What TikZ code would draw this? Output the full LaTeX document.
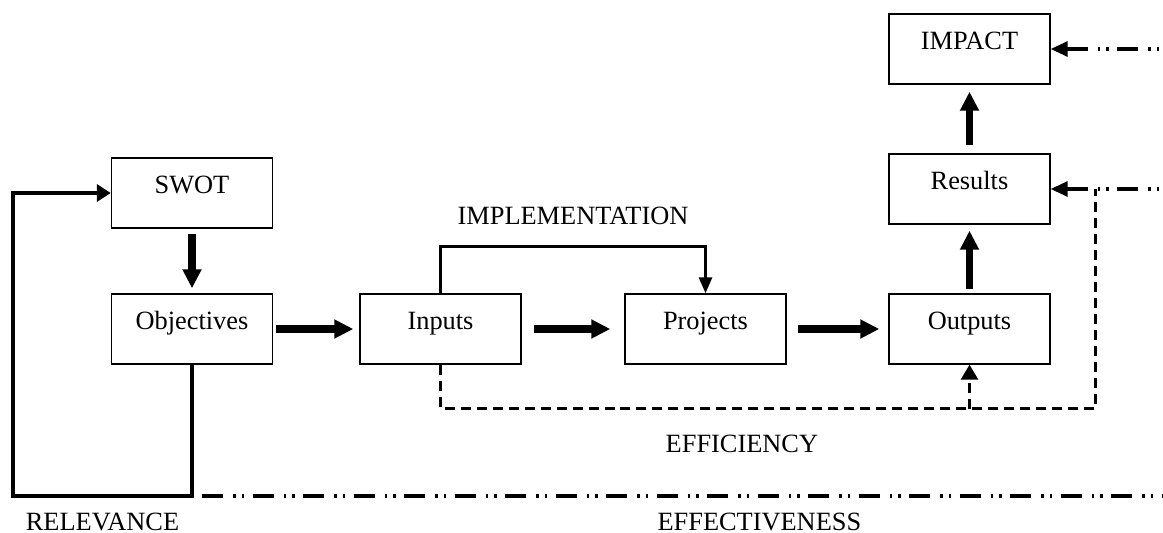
\documentclass[tikz,border=0pt]{standalone}
\usepackage{fontspec}
\setmainfont{Liberation Serif}
\usetikzlibrary{arrows.meta,positioning}

\begin{document}
\begin{tikzpicture}[
                            node distance=2.72cm,
                            font=\fontsize{15}{18}\selectfont,
                            block/.style={rectangle, draw, line width=0.8pt, minimum height=1.4cm, minimum width=3.22cm, text height=0.4cm, text depth=0.4cm, inner sep=0pt},
                            flow/.style={line width=4pt, -{Triangle[length=0.38cm,width=0.36cm]}, shorten <=0.1cm, shorten >=0.1cm},
                            relline/.style={line width=2.3pt, -{Triangle[length=0.28cm,width=0.34cm]}},
                            implline/.style={line width=1.7pt, -{Triangle[length=0.32cm,width=0.26cm]}},
                            effline/.style={line width=1.7pt, dash pattern=on 0.2cm off 0.12cm},
                            effect/.style={line width=2.3pt, dash pattern=on 0.42cm off 0.2cm on 0.05cm off 0.12cm on 0.05cm off 0.17cm},
                            lbl/.style={inner sep=0pt}
                        ]
                        \useasboundingbox (0,0) rectangle (23.26,10.64);
                        % Blocks
                        \node [block] (obj) at (3.84,4.06) {Objectives};
                        \node [block,above of=obj] (swot) {SWOT};
                        \node [block,right of=obj,node distance=4.97cm] (in) {Inputs};
                        \node [block,right of=in,node distance=5.3cm] (proj) {Projects};
                        \node [block,right of=proj,node distance=5.28cm] (out) {Outputs};
                        \node [block,above of=out,node distance=2.8cm] (res) {Results};
                        \node [block,above of=res,node distance=2.8cm] (imp) {IMPACT};

                        % Helper points
                        \coordinate [below=2.62cm of obj.south] (relc);
                        \coordinate [left=3.58cm of relc] (rell);
                        \coordinate [right=0.2cm of relc] (effs);
                        \coordinate [below=0.88cm of in.south] (effl);
                        \coordinate [right=0.9cm of res.east] (effr);
                        \coordinate (redge) at (23.26,0);

                        % Connections
                        \draw [flow] (swot) -- (obj);
                        \draw [flow,shorten <=0.06cm,shorten >=0.12cm] (obj) -- (in);
                        \draw [flow,shorten <=0.24cm,shorten >=0.28cm] (in) -- (proj);
                        \draw [flow,shorten <=0.22cm,shorten >=0.18cm] (proj) -- (out);
                        \draw [flow,shorten <=0.08cm,shorten >=0.12cm] (out) -- (res);
                        \draw [flow,shorten <=0.16cm,shorten >=0.14cm] (res) -- (imp);
                        \draw [implline] (in.north) -- ++(0,0.94) -| node[pos=0.25,above=0.4cm,lbl]{IMPLEMENTATION} (proj.north);
                        \draw [relline] (obj.south) -- (relc) -- node[below=0.3cm,lbl]{RELEVANCE} (rell) |- (swot.west);
                        \draw [effect] (effs) -- node[pos=0.58,below=0.3cm,lbl]{EFFECTIVENESS} (effs -| redge);
                        \draw [effline] (in.south) -- (effl) -- node[pos=0.46,below=0.5cm,lbl]{EFFICIENCY} (effl -| effr) -- (effr);
                        \draw [effline,-{Triangle[length=0.3cm,width=0.34cm]}] (effl -| out.south) -- (out.south);
                        \draw [effect,line width=1.8pt,{Triangle[length=0.34cm,width=0.3cm]}-] (imp.east) -- (imp.east -| redge);
                        \draw [effect,line width=1.8pt,{Triangle[length=0.34cm,width=0.3cm]}-] (res.east) -- (res.east -| redge);
                    \end{tikzpicture}
\end{document}
